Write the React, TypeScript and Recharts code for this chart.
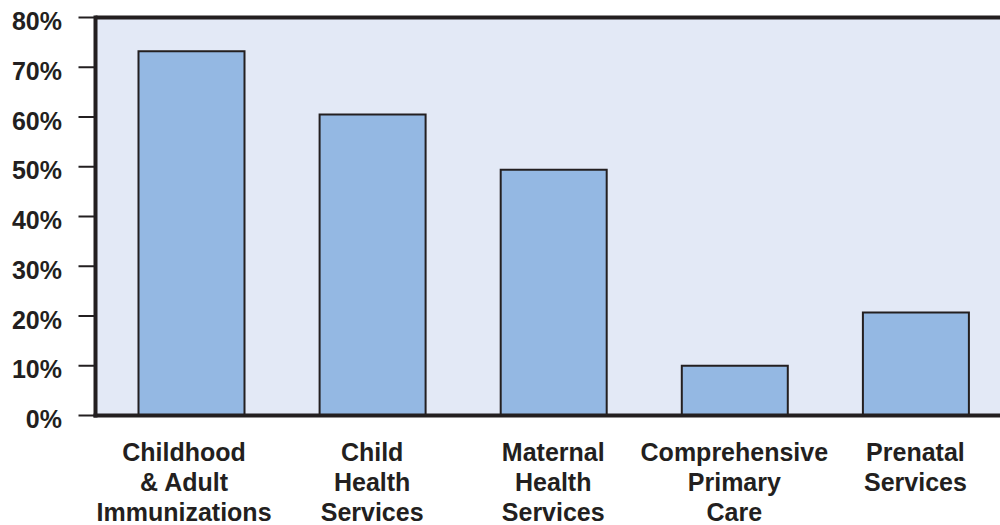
import { BarChart, Bar, XAxis, YAxis, CartesianGrid, ReferenceLine } from 'recharts';

const categories = [
  'Childhood\n& Adult\nImmunizations',
  'Child\nHealth\nServices',
  'Maternal\nHealth\nServices',
  'Comprehensive\nPrimary\nCare',
  'Prenatal\nServices',
];
const percentages = [73.2, 60.5, 49.4, 10.0, 20.7];
const yTicks = [0, 10, 20, 30, 40, 50, 60, 70, 80];

const data = categories.map((name, i) => ({ name, value: percentages[i] }));

const INK = '#231f20';
const FONT = '"Liberation Sans", Arial, Helvetica, sans-serif';

function YTick(props: any) {
  const { x, y, payload } = props;
  return (
    <text x={x} y={y} dy={12.5} textAnchor="end" fill={INK} fontSize={25} fontWeight={700} fontFamily={FONT}>
      {`${payload.value}%`}
    </text>
  );
}

function XTick(props: any) {
  const { x, y, payload, index } = props;
  const lines = String(payload.value).split('\n');
  // the first label sits a little left of its bar in the original
  const cx = index === 0 ? x - 7 : x;
  return (
    <text x={cx} y={y} textAnchor="middle" fill={INK} fontSize={25} fontWeight={700} fontFamily={FONT}>
      {lines.map((line, i) => (
        <tspan key={i} x={cx} y={y + 45 + i * 30}>
          {line}
        </tspan>
      ))}
    </text>
  );
}

export default function App() {
  return (
    <div style={{ position: 'absolute', left: 0, top: 0, width: 1000, height: 525, overflow: 'hidden', background: '#fff' }}>
      <BarChart width={1006} height={525} data={data} margin={{ top: 17.5, right: 0, bottom: 0, left: 0 }}>
        <CartesianGrid horizontal={false} vertical={false} fill="#e3e9f6" stroke="none" />
        <XAxis
          dataKey="name"
          height={109.5}
          padding={{ left: 5, right: 0 }}
          tickSize={0}
          tickMargin={0}
          tickLine={false}
          interval={0}
          axisLine={{ stroke: INK, strokeWidth: 4, strokeLinecap: 'square' }}
          tick={<XTick />}
        />
        <YAxis
          width={95.5}
          domain={[0, 80]}
          ticks={yTicks}
          tickSize={17}
          tickMargin={16.5}
          axisLine={{ stroke: INK, strokeWidth: 4, strokeLinecap: 'square' }}
          tickLine={{ stroke: INK, strokeWidth: 2 }}
          tick={<YTick />}
        />
        <ReferenceLine y={80} stroke={INK} strokeWidth={4} />
        <Bar dataKey="value" fill="#94b8e3" stroke={INK} strokeWidth={2} barSize={106} isAnimationActive={false} />
      </BarChart>
    </div>
  );
}
